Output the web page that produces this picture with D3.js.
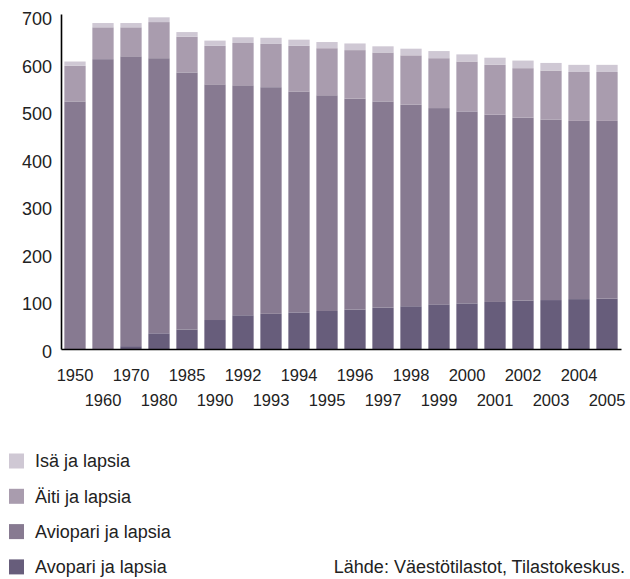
<!DOCTYPE html>
<html>
<head>
<meta charset="utf-8">
<script src="https://cdn.jsdelivr.net/npm/d3@7"></script>
<style>
  html, body { margin: 0; padding: 0; background: #ffffff; }
  svg { display: block; font-family: "Liberation Sans", Arial, Helvetica, sans-serif; }
</style>
</head>
<body>
<svg id="chart" width="630" height="579"></svg>
<script>
const years = ["1950","1960","1970","1980","1985","1990","1992","1993","1994","1995","1996","1997","1998","1999","2000","2001","2002","2003","2004","2005"];
const avopari  = [0, 0, 6, 33, 41, 61, 71, 74, 77, 80, 83, 87, 90, 94, 96, 99, 102, 103, 105, 106];
const aviopari = [521, 610, 610, 579, 541, 496, 484, 477, 465, 454, 444, 434, 424, 413, 404, 394, 385, 380, 375, 374];
const aiti     = [75, 67, 61, 76, 75, 81, 89, 91, 96, 99, 102, 103, 104, 105, 105, 105, 104, 103, 103, 103];
const isa      = [9, 9, 9, 10, 10, 11, 12, 13, 13, 13, 14, 13, 14, 15, 15, 15, 16, 16, 15, 15];
const yTicks = [0, 100, 200, 300, 400, 500, 600, 700];
const seriesNames = ["Avopari ja lapsia", "Aviopari ja lapsia", "Äiti ja lapsia", "Isä ja lapsia"];
const seriesColors = ["#675d7b", "#877a91", "#a99cae", "#cfc8d4"];
const sourceText = "Lähde: Väestötilastot, Tilastokeskus.";

(function () {
const svg = d3.select("#chart");
const mLeft = 61, mRight = 621, mBottom = 349, mTop = 14;

const table = years.map((yr, i) => ({
  year: yr,
  "Avopari ja lapsia": avopari[i],
  "Aviopari ja lapsia": aviopari[i],
  "Äiti ja lapsia": aiti[i],
  "Isä ja lapsia": isa[i]
}));
const stacked = d3.stack().keys(seriesNames)(table);

const x = d3.scaleBand().domain(years).range([mLeft, mRight]).paddingInner(0.24).paddingOuter(0.12);
const y = d3.scaleLinear().domain([0, 705]).range([mBottom, mTop]);
const color = d3.scaleOrdinal().domain(seriesNames).range(seriesColors);

svg.append("g").selectAll("g").data(stacked).join("g")
  .attr("fill", d => color(d.key))
  .selectAll("rect").data(d => d).join("rect")
  .attr("x", d => x(d.data.year))
  .attr("width", x.bandwidth())
  .attr("y", d => y(d[1]))
  .attr("height", d => y(d[0]) - y(d[1]));

// Y axis
const yAxis = svg.append("g").attr("transform", `translate(${mLeft},0)`)
  .call(d3.axisLeft(y).tickValues(yTicks).tickSize(0).tickPadding(9).tickSizeOuter(0));
yAxis.select(".domain").attr("stroke", "#000").attr("stroke-width", 1.6);
yAxis.selectAll("text").attr("font-size", 18).attr("fill", "#222").attr("dy", "0.45em")
  .attr("font-family", "'Liberation Sans', Arial, sans-serif");

// X axis
const xAxis = svg.append("g").attr("transform", `translate(0,${mBottom})`)
  .call(d3.axisBottom(x).tickSize(0).tickSizeOuter(0));
xAxis.select(".domain").attr("stroke", "#000").attr("stroke-width", 1.6);
xAxis.selectAll(".tick text")
  .attr("font-size", 16.5).attr("fill", "#222")
  .attr("font-family", "'Liberation Sans', Arial, sans-serif")
  .attr("y", (d, i) => i % 2 === 0 ? 26 : 51)
  .attr("dy", "0.35em");

// Legend
const legendOrder = ["Isä ja lapsia", "Äiti ja lapsia", "Aviopari ja lapsia", "Avopari ja lapsia"];
const lg = svg.append("g").selectAll("g").data(legendOrder).join("g")
  .attr("transform", (d, i) => `translate(9,${461 + i * 35.3})`);
lg.append("rect").attr("x", 0).attr("y", -7.5).attr("width", 15).attr("height", 15)
  .attr("fill", d => color(d));
lg.append("text").attr("x", 26).attr("y", 0).attr("dy", "0.36em")
  .attr("font-size", 18).attr("fill", "#222").text(d => d);

svg.append("text").attr("x", 625).attr("y", 567).attr("dy", "0.36em")
  .attr("text-anchor", "end").attr("font-size", 18).attr("fill", "#222").text(sourceText);
})();
</script>
</body>
</html>
